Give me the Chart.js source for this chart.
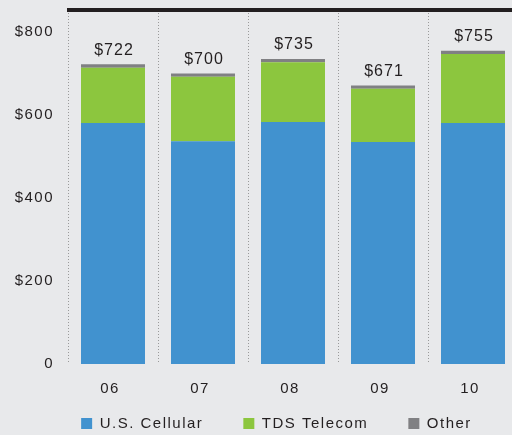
<!DOCTYPE html>
<html>
<head>
<meta charset="utf-8">
<script src="https://cdn.jsdelivr.net/npm/chart.js@4.4.0/dist/chart.umd.min.js"></script>
<style>
  html, body { margin: 0; padding: 0; background: #e8e9eb; overflow: hidden; width: 512px; height: 435px; }
  canvas { display: block; position: absolute; left: 0; top: 0; }
</style>
</head>
<body>
<canvas id="myChart" width="530" height="470"></canvas>
<script>
const years = ['06', '07', '08', '09', '10'];
const usCellular = [581, 537, 583, 535, 581];
const tdsTelecom = [133, 155, 144, 128, 166];
const other = [8, 8, 8, 8, 8];
const totals = [722, 700, 735, 671, 755];
const yTicks = [0, 200, 400, 600, 800];

const textColor = '#231f20';
const fontFamily = "'Liberation Sans', Arial, sans-serif";

// canvas letter spacing (the print chart uses slightly tracked type)
const spacing = {
    id: 'spacing',
    beforeUpdate: chart => { chart.ctx.letterSpacing = '1.5px'; },
    beforeDraw: chart => { chart.ctx.letterSpacing = '1.5px'; }
};

// legend needs wide gaps between items but sits close under the axis labels
const legendPlace = {
    id: 'legendPlace',
    afterLayout: chart => {
        const lg = chart.legend;
        lg.left = 35;
        lg.top = 376;
        lg.bottom = lg.top + lg.height;
    }
};

// thick rule on top of the plot + total labels above each stack
const extras = {
    id: 'extras',
    afterDatasetsDraw: chart => {
        const ctx = chart.ctx;
        const area = chart.chartArea;
        ctx.save();
        ctx.fillStyle = textColor;
        ctx.fillRect(area.left - 1, area.top - 2, chart.width, 4);

        const meta = chart.getDatasetMeta(2);
        ctx.font = '16px ' + fontFamily;
        ctx.letterSpacing = '1px';
        ctx.textAlign = 'center';
        ctx.textBaseline = 'middle';
        meta.data.forEach((bar, i) => {
            ctx.fillText('$' + totals[i], bar.x + 1, bar.y - 14);
        });
        ctx.restore();
    }
};

const ctx = document.getElementById('myChart').getContext('2d');
new Chart(ctx, {
    type: 'bar',
    data: {
        labels: years,
        datasets: [
            { label: 'U.S. Cellular', data: usCellular, backgroundColor: '#4192cf', borderWidth: 0 },
            { label: 'TDS Telecom', data: tdsTelecom, backgroundColor: '#8cc63e', borderWidth: 0 },
            { label: 'Other', data: other, backgroundColor: '#808083', borderWidth: 0 }
        ]
    },
    options: {
        responsive: false,
        animation: false,
        devicePixelRatio: 1,
        categoryPercentage: 1,
        barPercentage: 0.711,
        layout: { padding: { top: 10, left: 0, right: 12, bottom: 0 } },
        plugins: {
            tooltip: { enabled: false },
            legend: {
                position: 'bottom',
                labels: {
                    boxWidth: 11,
                    boxHeight: 11,
                    padding: 40,
                    color: textColor,
                    font: { family: fontFamily, size: 15 }
                }
            }
        },
        scales: {
            x: {
                stacked: true,
                grid: { color: '#9a9a9a', lineWidth: 1, drawTicks: false },
                border: { display: false, dash: [1, 2] },
                ticks: {
                    color: textColor,
                    padding: 16,
                    labelOffset: -3,
                    font: { family: fontFamily, size: 15 }
                },
                afterFit: s => { s.height = s.chart.height - s.chart.legend.height - 364; }
            },
            y: {
                stacked: true,
                min: 0,
                max: 853,
                grid: { display: false, drawTicks: true, tickLength: 14 },
                border: { display: false },
                afterBuildTicks: s => { s.ticks = yTicks.map(v => ({ value: v })); },
                afterFit: s => { s.width = 68; },
                ticks: {
                    color: textColor,
                    padding: 0,
                    labelOffset: 0,
                    font: { family: fontFamily, size: 15 },
                    callback: v => v === 0 ? '0' : '$' + v
                }
            }
        }
    },
    plugins: [spacing, legendPlace, extras]
});
</script>
</body>
</html>
